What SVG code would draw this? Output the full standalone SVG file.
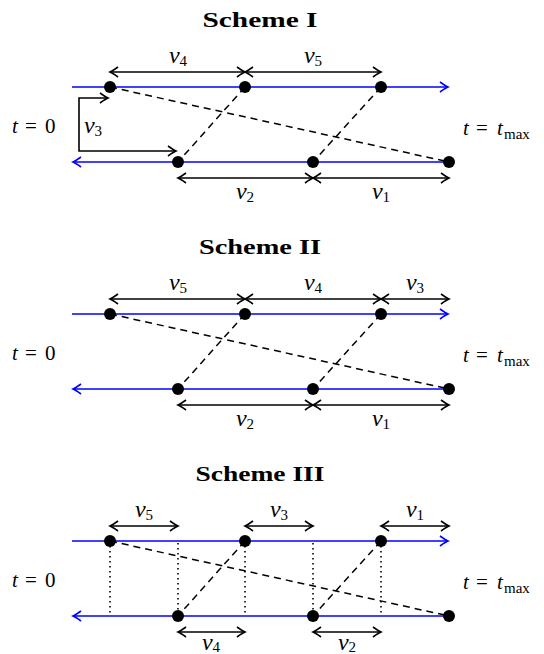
<svg xmlns="http://www.w3.org/2000/svg" width="544" height="654" viewBox="0 0 544 654">
<defs>
<style>
.bl{stroke:#0000ff;stroke-width:1.6;fill:none}
.dim{stroke:#000;stroke-width:1.6;fill:none;marker-start:url(#ah);marker-end:url(#ah)}
.dash{stroke:#000;stroke-width:1.5;stroke-dasharray:7,5;fill:none}
.dot{stroke:#000;stroke-width:1.6;stroke-dasharray:1.6,3.4;fill:none}
.pt{fill:#000}
text{font-family:"Liberation Serif","DejaVu Serif",serif;fill:#000}
.ttl{font-size:22px;font-weight:bold;text-anchor:middle}
.v{font-size:24px;font-style:italic;text-anchor:middle}
.sub{font-size:15px;font-style:normal}
.tl{font-size:21px}
.it{font-style:italic}
</style>
<marker id="ah" viewBox="-10 -6 12 12" markerWidth="12" markerHeight="12" refX="0" refY="0" orient="auto-start-reverse" markerUnits="userSpaceOnUse">
<path d="M-8,-5 Q-2.5,-1 0,0 Q-2.5,1 -8,5" stroke="#000" stroke-width="1.6" fill="none"/>
</marker>
<marker id="bh" viewBox="-10 -6 12 12" markerWidth="12" markerHeight="12" refX="0" refY="0" orient="auto" markerUnits="userSpaceOnUse">
<path d="M-8,-5 Q-2.5,-1 0,0 Q-2.5,1 -8,5" stroke="#0000ff" stroke-width="1.6" fill="none"/>
</marker>
</defs>

<!-- Scheme I -->
<g id="scheme1">
<text class="ttl" x="260" y="27" textLength="115" lengthAdjust="spacingAndGlyphs">Scheme I</text>
<text class="tl" y="133"><tspan class="it" x="12">t</tspan><tspan x="25">=</tspan><tspan x="45">0</tspan></text>
<text class="tl" y="135"><tspan class="it" x="463">t</tspan><tspan x="476">=</tspan><tspan class="it" x="497">t</tspan><tspan class="sub" x="504" dy="4">max</tspan></text>
</g>
<g id="connectors1">
<path class="bl" d="M72,87 H448" marker-end="url(#bh)"/>
<path class="bl" d="M449,162 H73" marker-end="url(#bh)"/>
<path class="dash" d="M110,87 L449,162 M245,87 L178,162 M381,87 L313,162"/>
<path class="dim" d="M110,72 H245"/>
<path class="dim" d="M245,72 H381"/>
<path class="dim" d="M178,178 H313"/>
<path class="dim" d="M313,178 H449"/>
<path class="dim" d="M108,98 H79 V151 H176"/>
</g>
<g id="nodes1">
<circle class="pt" cx="110" cy="87" r="6"/>
<circle class="pt" cx="245" cy="87" r="6"/>
<circle class="pt" cx="381" cy="87" r="6"/>
<circle class="pt" cx="178" cy="162" r="6"/>
<circle class="pt" cx="313" cy="162" r="6"/>
<circle class="pt" cx="449" cy="162" r="6"/>
</g>
<g id="labels1">
<text class="v" x="178" y="63">v<tspan class="sub" dy="3">4</tspan></text>
<text class="v" x="313" y="63">v<tspan class="sub" dy="3">5</tspan></text>
<text class="v" x="93" y="133">v<tspan class="sub" dy="3">3</tspan></text>
<text class="v" x="245" y="199">v<tspan class="sub" dy="3">2</tspan></text>
<text class="v" x="381" y="199">v<tspan class="sub" dy="3">1</tspan></text>
</g>

<!-- Scheme II -->
<g id="scheme2">
<text class="ttl" x="260" y="254" textLength="122" lengthAdjust="spacingAndGlyphs">Scheme II</text>
<text class="tl" y="360"><tspan class="it" x="12">t</tspan><tspan x="25">=</tspan><tspan x="45">0</tspan></text>
<text class="tl" y="362"><tspan class="it" x="463">t</tspan><tspan x="476">=</tspan><tspan class="it" x="497">t</tspan><tspan class="sub" x="504" dy="4">max</tspan></text>
</g>
<g id="connectors2">
<path class="bl" d="M72,314 H448" marker-end="url(#bh)"/>
<path class="bl" d="M449,389 H73" marker-end="url(#bh)"/>
<path class="dash" d="M110,314 L449,389 M245,314 L178,389 M381,314 L313,389"/>
<path class="dim" d="M110,299 H245"/>
<path class="dim" d="M245,299 H381"/>
<path class="dim" d="M381,299 H449"/>
<path class="dim" d="M178,405 H313"/>
<path class="dim" d="M313,405 H449"/>
</g>
<g id="nodes2">
<circle class="pt" cx="110" cy="314" r="6"/>
<circle class="pt" cx="245" cy="314" r="6"/>
<circle class="pt" cx="381" cy="314" r="6"/>
<circle class="pt" cx="178" cy="389" r="6"/>
<circle class="pt" cx="313" cy="389" r="6"/>
<circle class="pt" cx="449" cy="389" r="6"/>
</g>
<g id="labels2">
<text class="v" x="178" y="290">v<tspan class="sub" dy="3">5</tspan></text>
<text class="v" x="313" y="290">v<tspan class="sub" dy="3">4</tspan></text>
<text class="v" x="415" y="290">v<tspan class="sub" dy="3">3</tspan></text>
<text class="v" x="245" y="426">v<tspan class="sub" dy="3">2</tspan></text>
<text class="v" x="381" y="426">v<tspan class="sub" dy="3">1</tspan></text>
</g>

<!-- Scheme III -->
<g id="scheme3">
<text class="ttl" x="260" y="481" textLength="129" lengthAdjust="spacingAndGlyphs">Scheme III</text>
<text class="tl" y="587"><tspan class="it" x="12">t</tspan><tspan x="25">=</tspan><tspan x="45">0</tspan></text>
<text class="tl" y="589"><tspan class="it" x="463">t</tspan><tspan x="476">=</tspan><tspan class="it" x="497">t</tspan><tspan class="sub" x="504" dy="4">max</tspan></text>
</g>
<g id="connectors3">
<path class="bl" d="M72,541 H448" marker-end="url(#bh)"/>
<path class="bl" d="M449,616 H73" marker-end="url(#bh)"/>
<path class="dot" d="M110,546 V616 M178,543 V611 M245,546 V616 M313,543 V611 M381,546 V616"/>
<path class="dash" d="M110,541 L449,616 M245,541 L178,616 M381,541 L313,616"/>
<path class="dim" d="M110,526 H178"/>
<path class="dim" d="M245,526 H313"/>
<path class="dim" d="M381,526 H449"/>
<path class="dim" d="M178,632 H245"/>
<path class="dim" d="M313,632 H381"/>
</g>
<g id="nodes3">
<circle class="pt" cx="110" cy="541" r="6"/>
<circle class="pt" cx="245" cy="541" r="6"/>
<circle class="pt" cx="381" cy="541" r="6"/>
<circle class="pt" cx="178" cy="616" r="6"/>
<circle class="pt" cx="313" cy="616" r="6"/>
<circle class="pt" cx="449" cy="616" r="6"/>
</g>
<g id="labels3">
<text class="v" x="144" y="517">v<tspan class="sub" dy="3">5</tspan></text>
<text class="v" x="279" y="517">v<tspan class="sub" dy="3">3</tspan></text>
<text class="v" x="415" y="517">v<tspan class="sub" dy="3">1</tspan></text>
<text class="v" x="211" y="650">v<tspan class="sub" dy="2">4</tspan></text>
<text class="v" x="347" y="650">v<tspan class="sub" dy="2">2</tspan></text>
</g>
</svg>
